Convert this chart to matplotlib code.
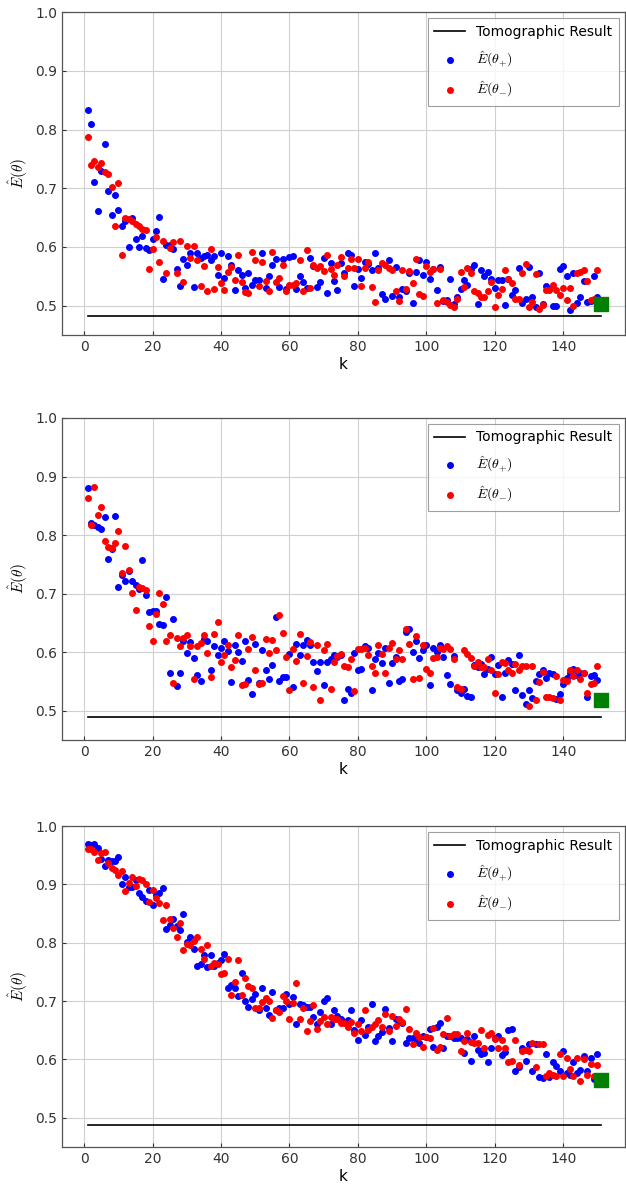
import matplotlib
matplotlib.use("Agg")
import matplotlib.pyplot as plt
import numpy as np

plt.rcParams['font.family'] = ['DejaVu Sans']
plt.rcParams['mathtext.fontset'] = 'cm'

k = np.arange(1, 151)

p1_plus = [0.834, 0.81, 0.71, 0.661, 0.73, 0.776, 0.695, 0.654, 0.688, 0.663,
           0.636, 0.644, 0.6, 0.649, 0.613, 0.6, 0.618, 0.598, 0.595, 0.614,
           0.627, 0.651, 0.545, 0.603, 0.603, 0.597, 0.563, 0.534, 0.58, 0.57,
           0.59, 0.531, 0.589, 0.582, 0.584, 0.586, 0.577, 0.584, 0.552, 0.59,
           0.548, 0.585, 0.57, 0.526, 0.56, 0.552, 0.53, 0.556, 0.536, 0.543,
           0.543, 0.589, 0.53, 0.551, 0.57, 0.58, 0.532, 0.579, 0.528, 0.583,
           0.584, 0.529, 0.551, 0.54, 0.53, 0.581, 0.567, 0.531, 0.541, 0.581,
           0.522, 0.572, 0.542, 0.526, 0.573, 0.555, 0.589, 0.586, 0.533, 0.563,
           0.548, 0.575, 0.571, 0.561, 0.59, 0.565, 0.52, 0.511, 0.578, 0.517,
           0.566, 0.514, 0.528, 0.525, 0.555, 0.505, 0.558, 0.578, 0.552, 0.575,
           0.545, 0.563, 0.526, 0.566, 0.508, 0.509, 0.546, 0.503, 0.515, 0.528,
           0.544, 0.536, 0.563, 0.569, 0.503, 0.561, 0.55, 0.557, 0.545, 0.53,
           0.544, 0.544, 0.502, 0.545, 0.519, 0.527, 0.565, 0.505, 0.512, 0.566,
           0.515, 0.497, 0.556, 0.503, 0.534, 0.528, 0.499, 0.5, 0.562, 0.568,
           0.551, 0.492, 0.556, 0.504, 0.515, 0.542, 0.506, 0.508, 0.551, 0.514]
p1_minus = [0.787, 0.739, 0.746, 0.736, 0.743, 0.727, 0.725, 0.702, 0.635, 0.709,
            0.586, 0.649, 0.648, 0.645, 0.639, 0.635, 0.631, 0.629, 0.563, 0.597,
            0.617, 0.574, 0.611, 0.556, 0.598, 0.608, 0.555, 0.611, 0.541, 0.601,
            0.581, 0.601, 0.577, 0.533, 0.567, 0.525, 0.597, 0.528, 0.566, 0.539,
            0.527, 0.558, 0.566, 0.543, 0.587, 0.54, 0.523, 0.522, 0.592, 0.578,
            0.533, 0.574, 0.542, 0.525, 0.592, 0.54, 0.548, 0.57, 0.525, 0.536,
            0.535, 0.538, 0.577, 0.525, 0.594, 0.53, 0.569, 0.564, 0.567, 0.559,
            0.586, 0.563, 0.552, 0.57, 0.583, 0.551, 0.565, 0.58, 0.565, 0.58,
            0.533, 0.564, 0.575, 0.531, 0.507, 0.56, 0.573, 0.57, 0.565, 0.56,
            0.525, 0.508, 0.56, 0.528, 0.559, 0.539, 0.579, 0.52, 0.517, 0.567,
            0.557, 0.563, 0.505, 0.563, 0.509, 0.507, 0.501, 0.498, 0.511, 0.557,
            0.532, 0.565, 0.556, 0.525, 0.521, 0.515, 0.515, 0.525, 0.541, 0.497,
            0.518, 0.528, 0.56, 0.545, 0.539, 0.512, 0.512, 0.556, 0.571, 0.497,
            0.506, 0.554, 0.494, 0.501, 0.526, 0.526, 0.536, 0.526, 0.519, 0.53,
            0.509, 0.53, 0.5, 0.556, 0.558, 0.56, 0.542, 0.51, 0.511, 0.561]

p2_plus = [0.88, 0.82, 0.818, 0.814, 0.811, 0.831, 0.759, 0.776, 0.832, 0.712,
           0.732, 0.722, 0.738, 0.722, 0.714, 0.708, 0.758, 0.697, 0.668, 0.671,
           0.67, 0.649, 0.646, 0.695, 0.564, 0.656, 0.543, 0.565, 0.62, 0.599,
           0.618, 0.59, 0.561, 0.551, 0.622, 0.62, 0.569, 0.611, 0.596, 0.608,
           0.619, 0.602, 0.549, 0.612, 0.601, 0.585, 0.619, 0.552, 0.529, 0.614,
           0.548, 0.603, 0.57, 0.554, 0.578, 0.66, 0.55, 0.557, 0.558, 0.597,
           0.54, 0.614, 0.595, 0.613, 0.621, 0.613, 0.583, 0.568, 0.584, 0.544,
           0.583, 0.588, 0.596, 0.592, 0.596, 0.518, 0.537, 0.531, 0.599, 0.569,
           0.572, 0.611, 0.608, 0.536, 0.588, 0.599, 0.581, 0.608, 0.548, 0.582,
           0.591, 0.55, 0.554, 0.635, 0.64, 0.6, 0.619, 0.59, 0.604, 0.612,
           0.544, 0.607, 0.601, 0.613, 0.592, 0.561, 0.546, 0.593, 0.536, 0.53,
           0.537, 0.525, 0.523, 0.578, 0.575, 0.58, 0.563, 0.571, 0.592, 0.562,
           0.579, 0.523, 0.564, 0.587, 0.58, 0.536, 0.596, 0.527, 0.512, 0.535,
           0.521, 0.55, 0.563, 0.569, 0.556, 0.565, 0.562, 0.52, 0.529, 0.545,
           0.556, 0.565, 0.571, 0.561, 0.564, 0.564, 0.524, 0.56, 0.561, 0.552]
p2_minus = [0.864, 0.818, 0.882, 0.834, 0.848, 0.79, 0.78, 0.778, 0.787, 0.807,
            0.735, 0.781, 0.741, 0.701, 0.672, 0.711, 0.709, 0.707, 0.645, 0.619,
            0.665, 0.701, 0.682, 0.619, 0.63, 0.548, 0.624, 0.61, 0.625, 0.629,
            0.611, 0.555, 0.611, 0.616, 0.63, 0.598, 0.557, 0.631, 0.651, 0.583,
            0.596, 0.612, 0.575, 0.587, 0.629, 0.544, 0.545, 0.606, 0.626, 0.569,
            0.546, 0.548, 0.622, 0.599, 0.621, 0.604, 0.663, 0.633, 0.592, 0.536,
            0.605, 0.585, 0.631, 0.548, 0.593, 0.617, 0.541, 0.613, 0.518, 0.604,
            0.614, 0.537, 0.584, 0.594, 0.597, 0.577, 0.574, 0.588, 0.534, 0.605,
            0.605, 0.607, 0.595, 0.577, 0.565, 0.612, 0.597, 0.564, 0.608, 0.616,
            0.588, 0.604, 0.588, 0.639, 0.614, 0.555, 0.628, 0.556, 0.612, 0.571,
            0.564, 0.59, 0.591, 0.608, 0.605, 0.61, 0.605, 0.589, 0.54, 0.538,
            0.604, 0.597, 0.59, 0.576, 0.584, 0.575, 0.575, 0.588, 0.57, 0.531,
            0.563, 0.584, 0.581, 0.569, 0.565, 0.58, 0.569, 0.577, 0.576, 0.509,
            0.576, 0.519, 0.549, 0.566, 0.524, 0.524, 0.521, 0.559, 0.519, 0.553,
            0.551, 0.569, 0.559, 0.569, 0.554, 0.565, 0.531, 0.546, 0.548, 0.576]

p3_plus = [0.969, 0.968, 0.97, 0.962, 0.943, 0.932, 0.941, 0.94, 0.94, 0.947,
           0.9, 0.912, 0.895, 0.895, 0.907, 0.886, 0.878, 0.871, 0.891, 0.865,
           0.881, 0.885, 0.894, 0.823, 0.831, 0.84, 0.829, 0.822, 0.85, 0.802,
           0.81, 0.79, 0.761, 0.764, 0.779, 0.759, 0.779, 0.76, 0.765, 0.771,
           0.781, 0.722, 0.727, 0.722, 0.708, 0.749, 0.7, 0.69, 0.703, 0.713,
           0.684, 0.722, 0.689, 0.677, 0.715, 0.685, 0.689, 0.689, 0.712, 0.695,
           0.707, 0.66, 0.695, 0.693, 0.69, 0.69, 0.673, 0.66, 0.681, 0.701,
           0.705, 0.661, 0.684, 0.674, 0.669, 0.665, 0.667, 0.685, 0.651, 0.633,
           0.667, 0.642, 0.656, 0.695, 0.631, 0.64, 0.647, 0.687, 0.654, 0.631,
           0.67, 0.666, 0.662, 0.628, 0.637, 0.636, 0.635, 0.629, 0.641, 0.639,
           0.652, 0.621, 0.655, 0.662, 0.62, 0.641, 0.64, 0.636, 0.636, 0.637,
           0.611, 0.635, 0.597, 0.64, 0.616, 0.61, 0.611, 0.595, 0.619, 0.636,
           0.64, 0.608, 0.612, 0.65, 0.652, 0.58, 0.587, 0.619, 0.598, 0.626,
           0.581, 0.627, 0.57, 0.568, 0.61, 0.57, 0.595, 0.588, 0.58, 0.614,
           0.577, 0.573, 0.595, 0.577, 0.582, 0.606, 0.581, 0.602, 0.566, 0.61]
p3_minus = [0.961, 0.96, 0.955, 0.941, 0.953, 0.955, 0.937, 0.928, 0.924, 0.916,
            0.923, 0.889, 0.902, 0.912, 0.897, 0.909, 0.907, 0.9, 0.869, 0.891,
            0.877, 0.868, 0.839, 0.864, 0.841, 0.826, 0.809, 0.833, 0.788, 0.798,
            0.796, 0.803, 0.81, 0.79, 0.772, 0.796, 0.76, 0.766, 0.764, 0.747,
            0.749, 0.773, 0.711, 0.732, 0.77, 0.711, 0.74, 0.726, 0.723, 0.689,
            0.689, 0.698, 0.706, 0.7, 0.671, 0.684, 0.682, 0.708, 0.701, 0.67,
            0.697, 0.731, 0.67, 0.689, 0.648, 0.666, 0.694, 0.652, 0.666, 0.672,
            0.66, 0.673, 0.669, 0.669, 0.663, 0.662, 0.655, 0.665, 0.646, 0.661,
            0.649, 0.684, 0.651, 0.656, 0.661, 0.668, 0.656, 0.678, 0.648, 0.674,
            0.657, 0.669, 0.664, 0.687, 0.653, 0.627, 0.646, 0.639, 0.622, 0.639,
            0.637, 0.654, 0.617, 0.622, 0.644, 0.671, 0.64, 0.644, 0.644, 0.614,
            0.632, 0.646, 0.63, 0.628, 0.628, 0.651, 0.619, 0.642, 0.645, 0.635,
            0.62, 0.633, 0.62, 0.596, 0.597, 0.634, 0.591, 0.614, 0.616, 0.615,
            0.628, 0.587, 0.626, 0.626, 0.571, 0.576, 0.573, 0.572, 0.61, 0.572,
            0.602, 0.584, 0.572, 0.603, 0.563, 0.601, 0.573, 0.593, 0.572, 0.59]

tomo = [0.483, 0.49, 0.488]
final_k = 151
final_val = [0.503, 0.518, 0.565]

panels = [(p1_plus, p1_minus), (p2_plus, p2_minus), (p3_plus, p3_minus)]

fig = plt.figure(figsize=(6.26, 11.86), dpi=100)
boxes = [(0.099, 0.7175, 0.899, 0.2723),
         (0.099, 0.376, 0.899, 0.2716),
         (0.099, 0.0329, 0.899, 0.2706)]

for i, (plus, minus) in enumerate(panels):
    ax = fig.add_axes(boxes[i])
    ax.grid(True, color='#d0d0d0', linewidth=0.8)
    ax.set_axisbelow(True)
    ax.plot([1, final_k], [tomo[i], tomo[i]], color='black', linewidth=1.2,
            label='Tomographic Result')
    ax.scatter(k, plus, s=16, color='blue', label=r'$\hat{E}(\theta_{+})$', zorder=3)
    ax.scatter(k, minus, s=16, color='red', label=r'$\hat{E}(\theta_{-})$', zorder=3)
    ax.scatter([final_k], [final_val[i]], s=90, marker='s', color='green', zorder=4)
    ax.set_ylim(0.45, 1.0)
    ax.set_xlim(-6.5, 158.0)
    ax.set_xticks([0, 20, 40, 60, 80, 100, 120, 140])
    ax.set_yticks([0.5, 0.6, 0.7, 0.8, 0.9, 1.0])
    ax.set_xlabel('k', fontsize=11, labelpad=2)
    ax.set_ylabel(r'$\hat{E}(\theta)$', fontsize=11)
    ax.tick_params(direction='in', length=3, labelsize=10, colors='#333333')
    for sp in ax.spines.values():
        sp.set_color('#555555')
        sp.set_linewidth(0.9)
    leg = ax.legend(loc='upper right', fontsize=10, frameon=True, fancybox=False,
                    edgecolor='#888888', borderpad=0.5, labelspacing=0.75,
                    handlelength=2.2, borderaxespad=0.4)
    leg.get_frame().set_linewidth(0.8)

fig.savefig('out.png', dpi=100)
